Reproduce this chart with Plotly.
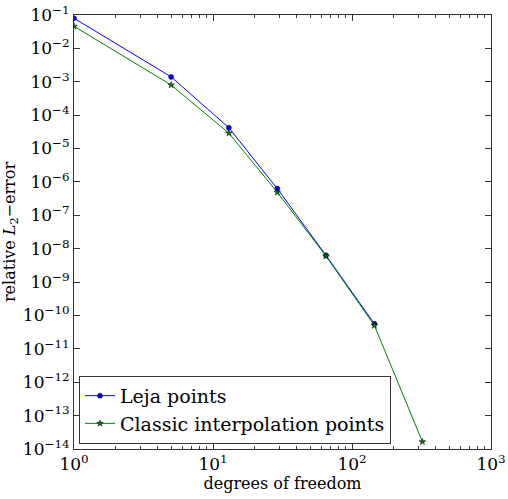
import plotly.graph_objects as go

dof_leja = [1, 5, 13, 29, 65, 145]
err_leja = [8.0e-2, 1.4e-3, 4.2e-5, 6.3e-7, 6.3e-9, 5.6e-11]

dof_classic = [1, 5, 13, 29, 65, 145, 321]
err_classic = [4.6e-2, 8.0e-4, 2.9e-5, 4.9e-7, 6.0e-9, 5.0e-11, 1.65e-14]

x_tickvals = [1, 10, 100, 1000]
x_ticktext = ["10<sup>0</sup>", "10<sup>1</sup>", "10<sup>2</sup>", "10<sup>3</sup>"]
x_minor_vals = [m * d for d in (1, 10, 100) for m in range(2, 10)]
y_exps = list(range(-14, 0))
y_tickvals = [10.0 ** e for e in y_exps]
y_ticktext = ["10<sup>\u2212%d</sup>" % (-e) for e in y_exps]

FONT = "DejaVu Serif"

fig = go.Figure()
fig.add_trace(go.Scatter(
    x=dof_leja, y=err_leja, mode="lines+markers", name="Leja points",
    line=dict(color="#0000ff", width=1),
    marker=dict(symbol="circle", size=5, color="#0000ff", line=dict(color="black", width=0.5)),
))
fig.add_trace(go.Scatter(
    x=dof_classic, y=err_classic, mode="lines+markers", name="Classic interpolation points",
    line=dict(color="#008000", width=1),
    marker=dict(symbol="star", size=5, color="#008000", line=dict(color="black", width=0.5)),
))

axis_common = dict(
    type="log", showgrid=False, zeroline=False, showline=True, linecolor="#333333",
    linewidth=1, mirror="ticks", ticks="inside", tickcolor="#333333",
    tickfont=dict(family=FONT, size=17, color="black"), automargin=False,
    ticklabeloverflow="allow",
)

fig.update_xaxes(
    range=[0, 3], tickmode="array", tickvals=x_tickvals, ticktext=x_ticktext, ticklen=6,
    minor=dict(ticks="inside", ticklen=3, tickcolor="#333333", showgrid=False,
               tickmode="array", tickvals=x_minor_vals),
    title=dict(text="degrees of freedom", font=dict(family=FONT, size=16, color="black"), standoff=4),
    **axis_common,
)
fig.update_yaxes(
    range=[-14, -1], tickmode="array", tickvals=y_tickvals, ticktext=y_ticktext, ticklen=6,
    title=dict(text="relative <i>L</i><sub>2</sub>\u2212error", font=dict(family=FONT, size=16, color="black"), standoff=6),
    **axis_common,
)

fig.update_layout(
    width=508, height=499,
    margin=dict(l=74, r=17, t=15, b=50),
    plot_bgcolor="white", paper_bgcolor="white",
    showlegend=True,
    legend=dict(
        x=0.012, y=0.012, xanchor="left", yanchor="bottom",
        bgcolor="white", bordercolor="#333333", borderwidth=1,
        font=dict(family=FONT, size=19, color="black"),
        tracegroupgap=0,
    ),
)

fig.write_html("out.html")
